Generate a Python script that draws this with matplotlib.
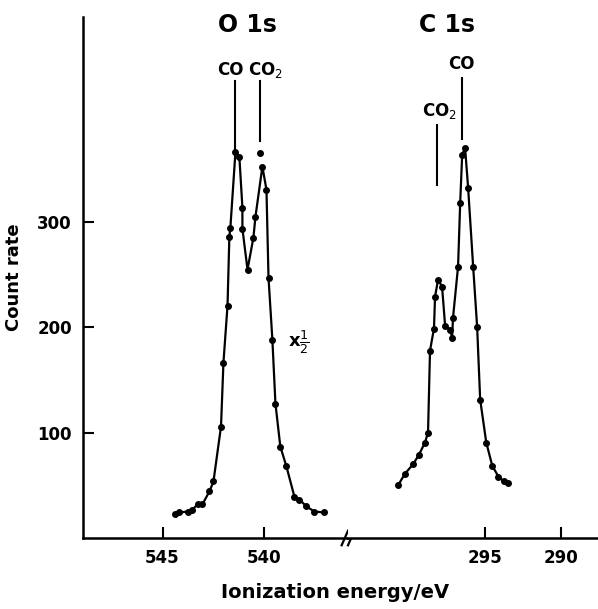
import matplotlib.pyplot as plt

# O 1s region (ionization energy / eV, count rate)
o1s_energy = [544.41, 544.17, 543.77, 543.53, 543.28, 543.04, 542.70, 542.50, 542.13,
              542.01, 541.81, 541.72, 541.67, 541.42, 541.23, 541.08, 541.08, 540.83,
              540.54, 540.44, 540.10, 539.90, 539.80, 539.61, 539.46, 539.22, 538.92,
              538.53, 538.28, 537.94, 537.55, 537.06]
o1s_count = [22.3, 24.2, 25.1, 27.0, 31.8, 32.0, 44.1, 53.6, 105.7,
             166.4, 220.4, 285.8, 294.3, 366.4, 361.6, 313.3, 293.4, 254.5,
             284.8, 304.7, 352.1, 330.3, 246.9, 188.2, 127.5, 86.7, 67.8,
             39.3, 36.5, 29.9, 25.1, 24.2]
o1s_top_energy = [540.20]
o1s_top_count = [365.4]

# C 1s region
c1s_energy = [300.72, 300.26, 299.74, 299.34, 298.95, 298.75, 298.62, 298.36, 298.29,
              298.09, 297.83, 297.63, 297.30, 297.17, 297.11, 296.78, 296.64, 296.51,
              296.32, 296.12, 295.79, 295.53, 295.33, 294.93, 294.54, 294.14, 293.75,
              293.49]
c1s_count = [49.8, 61.1, 69.7, 79.1, 90.5, 100.0, 177.7, 198.6, 228.9,
             245.0, 238.4, 201.4, 197.6, 190.0, 209.0, 257.3, 318.0, 363.5,
             370.1, 332.2, 257.3, 200.5, 131.3, 90.5, 68.7, 58.3, 53.6,
             51.7]

y_ticks = [100, 200, 300]
left_ticks = [545, 540]
right_ticks = [295, 290]

fig = plt.figure(figsize=(5.98, 6.09), dpi=100)
ax1 = fig.add_axes([83/598, 71/609, 265/598, 521/609])
ax2 = fig.add_axes([348/598, 71/609, 250/598, 521/609], sharey=ax1)

lw = 1.6
ax1.plot(o1s_energy, o1s_count, color='black', lw=lw, marker='o', ms=4)
ax1.plot(o1s_top_energy, o1s_top_count, color='black', ls='none', marker='o', ms=4)
ax2.plot(c1s_energy, c1s_count, color='black', lw=lw, marker='o', ms=4)

ax1.set_xlim(548.9, 535.9)
ax2.set_xlim(304.0, 287.6)
ax1.set_ylim(0, 494)

for ax in (ax1, ax2):
    ax.spines['top'].set_visible(False)
    ax.spines['right'].set_visible(False)
    ax.spines['bottom'].set_linewidth(1.8)
    ax.tick_params(direction='in', length=8, width=1.5, labelsize=12, pad=8)
ax2.spines['left'].set_visible(False)
ax1.spines['left'].set_linewidth(1.8)
ax1.set_xticks(left_ticks)
ax2.set_xticks(right_ticks)
ax1.set_yticks(y_ticks)
ax2.tick_params(axis='y', left=False, labelleft=False)
for ax in (ax1, ax2):
    for t in ax.get_xticklabels() + ax.get_yticklabels():
        t.set_fontweight('bold')

# axis break marks
for dx in (-0.012, 0.012):
    ax1.plot([1 + dx - 0.012, 1 + dx + 0.012], [-0.014, 0.014], transform=ax1.transAxes,
             color='black', lw=1.6, clip_on=False)

# peak labels
kw = dict(ha='center', va='center', fontsize=12, fontweight='bold')
ax1.text(540.83, 486, 'O 1s', fontsize=17, fontweight='bold', ha='center', va='center', clip_on=False)
ax2.text(297.5, 486, 'C 1s', fontsize=17, fontweight='bold', ha='center', va='center', clip_on=False)

ax1.text(541.68, 444, 'CO', **kw)
ax1.text(539.95, 444, 'CO$_2$', **kw)
ax1.plot([541.42, 541.42], [366, 433], color='black', lw=1.5)
ax1.plot([540.20, 540.20], [376, 433], color='black', lw=1.5)

ax2.text(296.58, 449, 'CO', **kw)
ax2.text(298.0, 405, 'CO$_2$', **kw)
ax2.plot([296.51, 296.51], [378, 436], color='black', lw=1.5)
ax2.plot([298.16, 298.16], [335, 392], color='black', lw=1.5)

ax1.text(538.3, 186, r'x$\frac{1}{2}$', fontsize=13, fontweight='bold', ha='center', va='center')

ax1.set_ylabel('Count rate', fontsize=13, fontweight='bold', labelpad=10)
fig.text(335/598, 1 - 593/609, 'Ionization energy/eV', fontsize=14, fontweight='bold',
         ha='center', va='center')

fig.savefig('out.png', dpi=100)
